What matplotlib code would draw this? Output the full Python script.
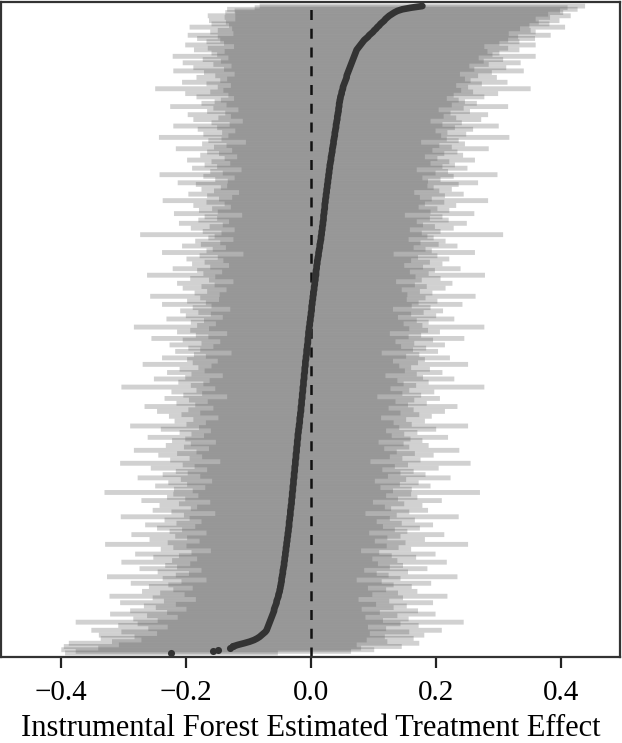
import numpy as np
import matplotlib
matplotlib.use("Agg")
from matplotlib import pyplot as plt

# sorted point estimates, bottom row first
estimates = [
    -0.223, -0.156, -0.149, -0.130, -0.125, -0.117, -0.107, -0.098, -0.091, -0.086,
    -0.082, -0.079, -0.076, -0.073, -0.071, -0.070, -0.069, -0.068, -0.067, -0.066,
    -0.065, -0.064, -0.063, -0.062, -0.061, -0.060, -0.059, -0.059, -0.058, -0.057,
    -0.056, -0.055, -0.055, -0.054, -0.053, -0.052, -0.052, -0.051, -0.050, -0.050,
    -0.049, -0.049, -0.048, -0.048, -0.047, -0.047, -0.047, -0.046, -0.046, -0.045,
    -0.045, -0.045, -0.044, -0.044, -0.043, -0.043, -0.043, -0.042, -0.042, -0.042,
    -0.041, -0.041, -0.041, -0.040, -0.040, -0.040, -0.039, -0.039, -0.039, -0.038,
    -0.038, -0.038, -0.037, -0.037, -0.037, -0.036, -0.036, -0.036, -0.035, -0.035,
    -0.035, -0.035, -0.034, -0.034, -0.034, -0.033, -0.033, -0.033, -0.033, -0.032,
    -0.032, -0.032, -0.031, -0.031, -0.031, -0.031, -0.030, -0.030, -0.030, -0.030,
    -0.029, -0.029, -0.029, -0.029, -0.028, -0.028, -0.028, -0.028, -0.027, -0.027,
    -0.027, -0.027, -0.026, -0.026, -0.026, -0.026, -0.025, -0.025, -0.025, -0.025,
    -0.024, -0.024, -0.024, -0.024, -0.023, -0.023, -0.023, -0.023, -0.022, -0.022,
    -0.022, -0.022, -0.021, -0.021, -0.021, -0.021, -0.020, -0.020, -0.020, -0.019,
    -0.019, -0.019, -0.018, -0.018, -0.018, -0.018, -0.017, -0.017, -0.017, -0.016,
    -0.016, -0.016, -0.016, -0.015, -0.015, -0.015, -0.015, -0.014, -0.014, -0.014,
    -0.014, -0.013, -0.013, -0.013, -0.013, -0.012, -0.012, -0.012, -0.012, -0.011,
    -0.011, -0.011, -0.011, -0.010, -0.010, -0.010, -0.010, -0.009, -0.009, -0.009,
    -0.009, -0.008, -0.008, -0.008, -0.007, -0.007, -0.007, -0.007, -0.006, -0.006,
    -0.006, -0.005, -0.005, -0.005, -0.005, -0.004, -0.004, -0.004, -0.004, -0.003,
    -0.003, -0.003, -0.002, -0.002, -0.002, -0.001, -0.001, -0.001, 0.000, 0.000,
    0.000, 0.001, 0.001, 0.001, 0.001, 0.002, 0.002, 0.002, 0.003, 0.003,
    0.003, 0.004, 0.004, 0.004, 0.005, 0.005, 0.005, 0.006, 0.006, 0.006,
    0.007, 0.007, 0.007, 0.008, 0.008, 0.008, 0.008, 0.009, 0.009, 0.009,
    0.010, 0.010, 0.010, 0.011, 0.011, 0.012, 0.012, 0.012, 0.013, 0.013,
    0.014, 0.014, 0.014, 0.015, 0.015, 0.016, 0.016, 0.016, 0.017, 0.017,
    0.017, 0.018, 0.018, 0.018, 0.019, 0.019, 0.019, 0.020, 0.020, 0.020,
    0.020, 0.021, 0.021, 0.021, 0.022, 0.022, 0.022, 0.022, 0.023, 0.023,
    0.023, 0.024, 0.024, 0.024, 0.025, 0.025, 0.025, 0.026, 0.026, 0.026,
    0.027, 0.027, 0.027, 0.028, 0.028, 0.028, 0.029, 0.029, 0.029, 0.030,
    0.030, 0.030, 0.031, 0.031, 0.032, 0.032, 0.032, 0.033, 0.033, 0.034,
    0.034, 0.034, 0.035, 0.035, 0.036, 0.036, 0.036, 0.037, 0.037, 0.038,
    0.038, 0.038, 0.039, 0.039, 0.040, 0.040, 0.040, 0.041, 0.041, 0.042,
    0.042, 0.042, 0.043, 0.043, 0.044, 0.044, 0.044, 0.045, 0.045, 0.045,
    0.046, 0.046, 0.047, 0.047, 0.048, 0.049, 0.049, 0.050, 0.051, 0.051,
    0.052, 0.053, 0.054, 0.055, 0.056, 0.057, 0.057, 0.058, 0.059, 0.060,
    0.061, 0.062, 0.063, 0.064, 0.065, 0.066, 0.067, 0.068, 0.069, 0.070,
    0.071, 0.072, 0.073, 0.075, 0.077, 0.079, 0.081, 0.083, 0.085, 0.088,
    0.091, 0.093, 0.096, 0.099, 0.101, 0.104, 0.106, 0.109, 0.111, 0.114,
    0.117, 0.119, 0.122, 0.125, 0.129, 0.133, 0.138, 0.146, 0.160, 0.178,
]

# half-width of each confidence interval, same order
half_widths = [
    0.17, 0.22, 0.25, 0.21, 0.27, 0.19, 0.28, 0.22, 0.18, 0.25,
    0.20, 0.26, 0.17, 0.23, 0.28, 0.19, 0.16, 0.24, 0.21, 0.31,
    0.18, 0.22, 0.15, 0.20, 0.26, 0.17, 0.23, 0.14, 0.19, 0.21,
    0.16, 0.25, 0.18, 0.13, 0.20, 0.27, 0.15, 0.19, 0.22, 0.17,
    0.14, 0.21, 0.18, 0.24, 0.16, 0.12, 0.19, 0.28, 0.17, 0.15,
    0.20, 0.13, 0.23, 0.17, 0.19, 0.15, 0.26, 0.18, 0.14, 0.21,
    0.17, 0.24, 0.15, 0.12, 0.20, 0.18, 0.16, 0.29, 0.19, 0.14,
    0.22, 0.16, 0.18, 0.25, 0.13, 0.19, 0.17, 0.21, 0.15, 0.23,
    0.18, 0.14, 0.20, 0.16, 0.27, 0.17, 0.12, 0.19, 0.22, 0.16,
    0.15, 0.21, 0.18, 0.13, 0.24, 0.17, 0.20, 0.15, 0.19, 0.30,
    0.16, 0.19, 0.14, 0.22, 0.17, 0.20, 0.13, 0.18, 0.25, 0.15,
    0.21, 0.17, 0.19, 0.14, 0.23, 0.16, 0.18, 0.28, 0.12, 0.20,
    0.17, 0.15, 0.22, 0.19, 0.16, 0.26, 0.14, 0.18, 0.21, 0.17,
    0.13, 0.20, 0.18, 0.24, 0.15, 0.17, 0.19, 0.14, 0.22, 0.16,
    0.27, 0.18, 0.15, 0.20, 0.17, 0.13, 0.21, 0.19, 0.16, 0.23,
    0.18, 0.14, 0.25, 0.17, 0.20, 0.15, 0.18, 0.22, 0.12, 0.19,
    0.16, 0.21, 0.17, 0.14, 0.29, 0.18, 0.16, 0.20, 0.15, 0.24,
    0.19, 0.13, 0.18, 0.22, 0.16, 0.20, 0.17, 0.15, 0.26, 0.18,
    0.14, 0.19, 0.23, 0.16, 0.18, 0.12, 0.21, 0.17, 0.19, 0.15,
    0.22, 0.17, 0.14, 0.20, 0.25, 0.16, 0.18, 0.13, 0.21, 0.19,
    0.16, 0.28, 0.18, 0.15, 0.19, 0.17, 0.23, 0.14, 0.20, 0.16,
    0.18, 0.21, 0.13, 0.19, 0.16, 0.24, 0.17, 0.20, 0.15, 0.18,
    0.26, 0.15, 0.19, 0.17, 0.14, 0.21, 0.18, 0.16, 0.22, 0.13,
    0.17, 0.20, 0.16, 0.27, 0.18, 0.15, 0.19, 0.23, 0.17, 0.14,
    0.20, 0.18, 0.15, 0.21, 0.16, 0.19, 0.12, 0.25, 0.18, 0.17,
    0.15, 0.22, 0.19, 0.16, 0.20, 0.14, 0.18, 0.17, 0.29, 0.16,
    0.19, 0.14, 0.21, 0.18, 0.16, 0.23, 0.15, 0.20, 0.17, 0.19,
    0.13, 0.24, 0.17, 0.20, 0.18, 0.15, 0.21, 0.16, 0.19, 0.26,
    0.17, 0.15, 0.19, 0.22, 0.14, 0.18, 0.20, 0.17, 0.16, 0.21,
    0.24, 0.16, 0.18, 0.15, 0.20, 0.27, 0.17, 0.19, 0.14, 0.22,
    0.18, 0.20, 0.16, 0.19, 0.23, 0.17, 0.15, 0.21, 0.18, 0.20,
    0.16, 0.25, 0.19, 0.17, 0.21, 0.14, 0.20, 0.18, 0.28, 0.17,
    0.21, 0.18, 0.16, 0.22, 0.19, 0.26, 0.17, 0.20, 0.15, 0.23,
    0.19, 0.17, 0.24, 0.18, 0.21, 0.16, 0.20, 0.27, 0.18, 0.22,
    0.20, 0.19, 0.17, 0.23, 0.18, 0.25, 0.21, 0.19, 0.30, 0.20,
    0.18, 0.22, 0.26, 0.20, 0.19, 0.24, 0.21, 0.18, 0.23, 0.28,
    0.20, 0.25, 0.19, 0.22, 0.27, 0.21, 0.24, 0.20, 0.29, 0.22,
    0.23, 0.21, 0.26, 0.24, 0.20, 0.28, 0.22, 0.25, 0.23, 0.27,
    0.24, 0.29, 0.22, 0.26, 0.25, 0.23, 0.30, 0.24, 0.27, 0.25,
    0.28, 0.24, 0.26, 0.29, 0.25, 0.27, 0.26, 0.28, 0.25, 0.26,
]

xticks = [-0.4, -0.2, 0.0, 0.2, 0.4]
xlabel = "Instrumental Forest Estimated Treatment Effect"

est = np.array(estimates)
hw = np.array(half_widths)
rows = np.arange(len(est))

plt.rcParams['font.family'] = ['Liberation Serif', 'DejaVu Serif']

fig = plt.figure(figsize=(6.22, 7.43), dpi=100)
ax = fig.add_axes([0.002, 0.1157, 0.995, 0.8816])

ylim = (-2.5, len(est) + 1.5)
# height of one row in pixels; intervals drawn 3 rows thick so neighbours overlap
row_px = ax.get_position().height * 743 / (ylim[1] - ylim[0])
lw_pt = 3.0 * row_px * 72 / 100
ax.hlines(rows, est - hw, est + hw, color='#5a5a5a', alpha=0.28,
          linewidth=lw_pt, zorder=1, snap=False)

# point estimates: a thick dark trace, loose outliers at the bottom
ax.plot(est[4:], rows[4:], color='#333333', linewidth=4.8,
        solid_capstyle='round', zorder=3)
ax.scatter(est[:5], rows[:5], s=26, color='#333333', linewidths=0, zorder=3)

ax.axvline(0.0, color='#111111', linewidth=1.8, linestyle=(0, (4, 3.5)),
           zorder=2)

ax.set_xlim(-0.495, 0.494)
ax.set_ylim(*ylim)
ax.set_yticks([])
ax.set_xticks(xticks)
ax.set_xticklabels([f"{t:.1f}".replace("-", "\u2212") for t in xticks])
ax.tick_params(axis='x', direction='out', length=8, width=1.6,
               color='#222222', labelsize=21, pad=8.5)
for s in ax.spines.values():
    s.set_linewidth(1.6)
    s.set_color('#333333')
ax.set_xlabel(xlabel, fontsize=22, labelpad=6)

fig.savefig("out.png", dpi=100)
